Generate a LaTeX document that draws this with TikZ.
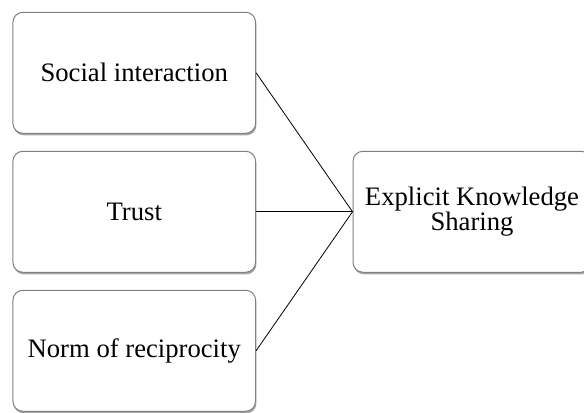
\documentclass[tikz,border=0pt]{standalone}
\usepackage{fontspec}
\setmainfont{Liberation Serif}
\usetikzlibrary{shadows}
\begin{document}
\begin{tikzpicture}[x=0.75pt,y=-0.75pt,
  factorbox/.style={draw=black!50, line width=0.75pt, fill=white, rounded corners=7.5pt,
    minimum width=182pt, minimum height=90.75pt, inner sep=0pt,
    font=\fontsize{20}{16.5}\selectfont, align=center,
    drop shadow={shadow xshift=0.6pt, shadow yshift=-1.6pt, opacity=0.35, fill=black}},
  link/.style={draw=black, line width=0.6pt}]
\useasboundingbox (0,0) rectangle (584,412);
\node[factorbox] (social) at (134.25,72.75) {Social interaction};
\node[factorbox] (trust) at (134.25,211.75) {Trust};
\node[factorbox] (norm) at (134.25,350.75) {Norm of reciprocity};
\node[factorbox, minimum width=178.5pt] (eks) at (472,211.75) {Explicit Knowledge\\Sharing};
\draw[link] (social.east) -- (eks.west);
\draw[link] (trust.east) -- (eks.west);
\draw[link] (norm.east) -- (eks.west);
\end{tikzpicture}
\end{document}
